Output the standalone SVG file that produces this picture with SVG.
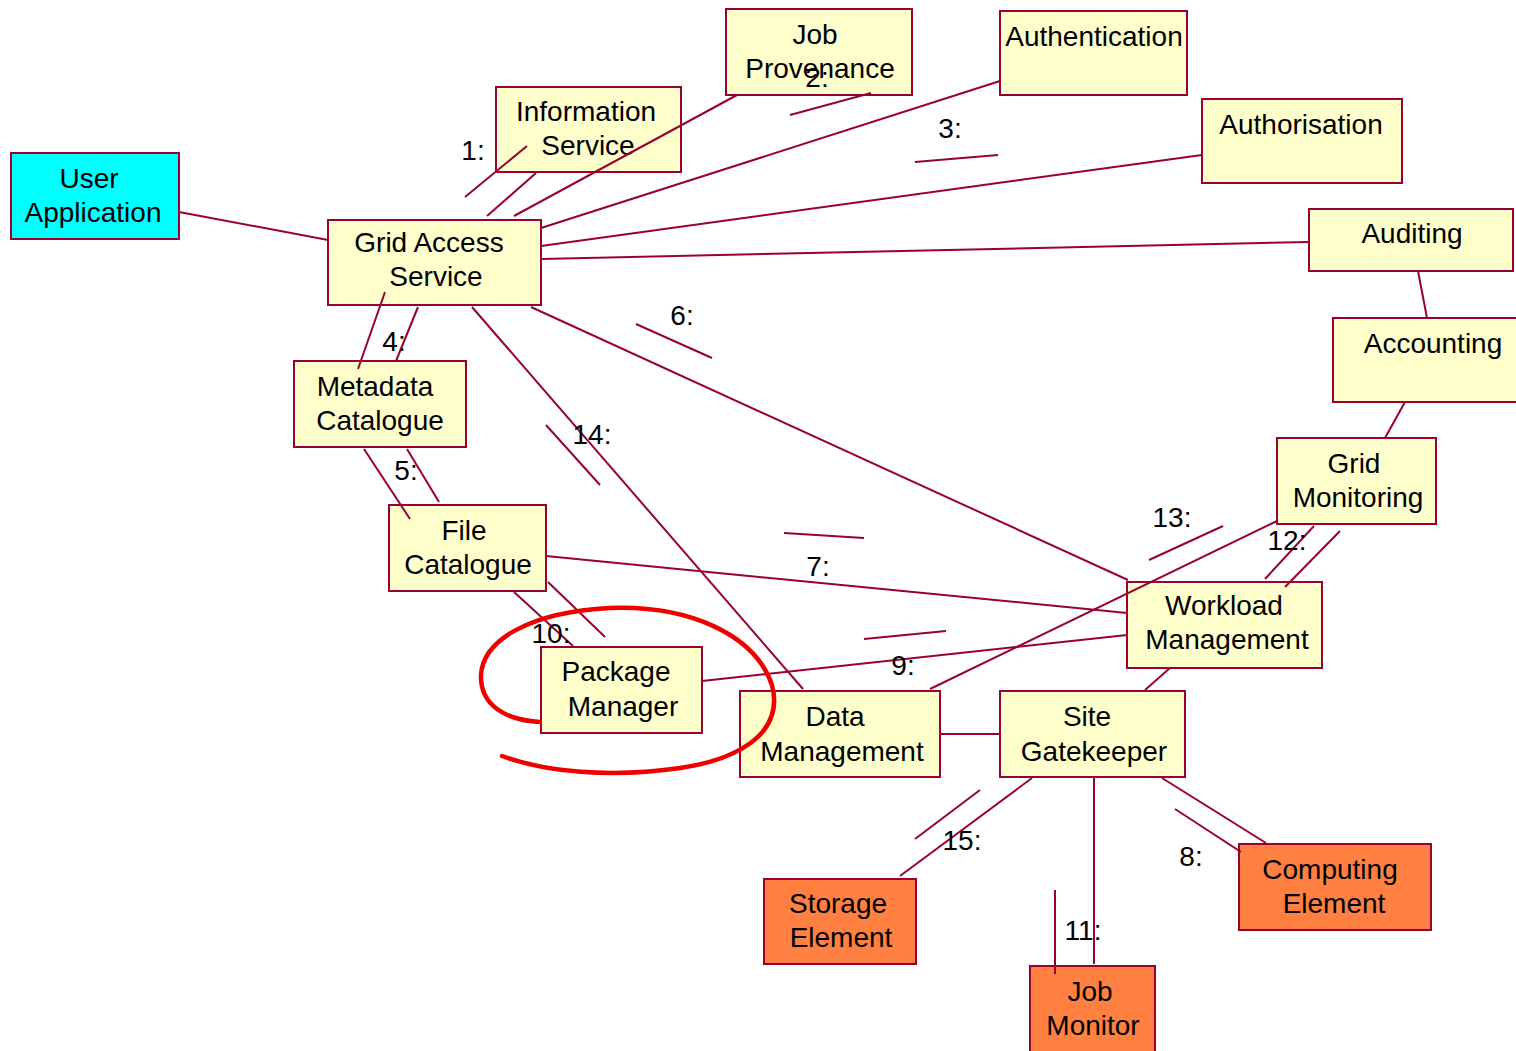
<svg xmlns="http://www.w3.org/2000/svg" width="1516" height="1051" viewBox="0 0 1516 1051">
<style>
.n{fill:#FFFFCC;stroke:#990033;stroke-width:2}
.u{fill:#00FFFF;stroke:#990033;stroke-width:2}
.o{fill:#FF8040;stroke:#990033;stroke-width:2}
text{font-family:"Liberation Sans",Arial,sans-serif;font-size:28px;fill:#000;text-anchor:middle}
.c line{stroke:#990033;stroke-width:2}
</style>
<rect width="1516" height="1051" fill="#fff"/>
<g id="user-application"><rect class="u" x="11" y="153" width="168" height="86"/><text x="89" y="188">User</text><text x="93" y="222">Application</text></g>
<g id="grid-access-service"><rect class="n" x="328" y="220" width="213" height="85"/><text x="429" y="252">Grid Access</text><text x="436" y="286">Service</text></g>
<g id="information-service"><rect class="n" x="496" y="87" width="185" height="85"/><text x="586" y="121">Information</text><text x="588" y="155">Service</text></g>
<g id="job-provenance"><rect class="n" x="726" y="9" width="186" height="86"/><text x="815" y="44">Job</text><text x="820" y="78">Provenance</text></g>
<g id="authentication"><rect class="n" x="1000" y="11" width="187" height="84"/><text x="1094" y="46">Authentication</text></g>
<g id="authorisation"><rect class="n" x="1202" y="99" width="200" height="84"/><text x="1301" y="134">Authorisation</text></g>
<g id="auditing"><rect class="n" x="1309" y="209" width="204" height="62"/><text x="1412" y="243">Auditing</text></g>
<g id="accounting"><rect class="n" x="1333" y="318" width="190" height="84"/><text x="1433" y="353">Accounting</text></g>
<g id="metadata-catalogue"><rect class="n" x="294" y="361" width="172" height="86"/><text x="375" y="396">Metadata</text><text x="380" y="430">Catalogue</text></g>
<g id="file-catalogue"><rect class="n" x="389" y="505" width="157" height="86"/><text x="464" y="540">File</text><text x="468" y="574">Catalogue</text></g>
<g id="package-manager"><rect class="n" x="541" y="647" width="161" height="86"/><text x="616" y="681">Package</text><text x="623" y="716">Manager</text></g>
<g id="data-management"><rect class="n" x="740" y="691" width="200" height="86"/><text x="835" y="726">Data</text><text x="842" y="761">Management</text></g>
<g id="site-gatekeeper"><rect class="n" x="1000" y="691" width="185" height="86"/><text x="1087" y="726">Site</text><text x="1094" y="761">Gatekeeper</text></g>
<g id="workload-management"><rect class="n" x="1127" y="582" width="195" height="86"/><text x="1224" y="615">Workload</text><text x="1227" y="649">Management</text></g>
<g id="grid-monitoring"><rect class="n" x="1277" y="438" width="159" height="86"/><text x="1354" y="473">Grid</text><text x="1358" y="507">Monitoring</text></g>
<g id="storage-element"><rect class="o" x="764" y="879" width="152" height="85"/><text x="838" y="913">Storage</text><text x="841" y="947">Element</text></g>
<g id="computing-element"><rect class="o" x="1239" y="844" width="192" height="86"/><text x="1330" y="879">Computing</text><text x="1334" y="913">Element</text></g>
<g id="job-monitor"><rect class="o" x="1030" y="966" width="125" height="90"/><text x="1090" y="1001">Job</text><text x="1093" y="1035">Monitor</text></g>
<g class="c" id="connectors">
<line x1="179" y1="212" x2="328" y2="240"/>
<line x1="487" y1="216" x2="536" y2="173"/>
<line x1="465" y1="197" x2="527" y2="146"/>
<line x1="514" y1="216" x2="737" y2="95"/>
<line x1="790" y1="115" x2="871" y2="93"/>
<line x1="541" y1="228" x2="1000" y2="81"/>
<line x1="915" y1="162" x2="998" y2="155"/>
<line x1="541" y1="246" x2="1202" y2="155"/>
<line x1="541" y1="259" x2="1309" y2="242"/>
<line x1="1418" y1="271" x2="1427" y2="318"/>
<line x1="1405" y1="402" x2="1385" y2="438"/>
<line x1="385" y1="292" x2="358" y2="369"/>
<line x1="418" y1="307" x2="396" y2="361"/>
<line x1="364" y1="449" x2="410" y2="519"/>
<line x1="407" y1="449" x2="439" y2="502"/>
<line x1="472" y1="307" x2="803" y2="689"/>
<line x1="546" y1="425" x2="600" y2="485"/>
<line x1="531" y1="307" x2="1128" y2="580"/>
<line x1="636" y1="324" x2="712" y2="358"/>
<line x1="546" y1="556" x2="1127" y2="613"/>
<line x1="784" y1="533" x2="864" y2="538"/>
<line x1="514" y1="592" x2="573" y2="646"/>
<line x1="548" y1="582" x2="605" y2="637"/>
<line x1="702" y1="681" x2="1127" y2="635"/>
<line x1="864" y1="639" x2="946" y2="631"/>
<line x1="930" y1="689" x2="1277" y2="521"/>
<line x1="1149" y1="560" x2="1223" y2="526"/>
<line x1="1265" y1="579" x2="1314" y2="526"/>
<line x1="1285" y1="587" x2="1340" y2="531"/>
<line x1="940" y1="734" x2="1000" y2="734"/>
<line x1="1170" y1="668" x2="1145" y2="690"/>
<line x1="1032" y1="778" x2="900" y2="876"/>
<line x1="980" y1="790" x2="915" y2="839"/>
<line x1="1094" y1="778" x2="1094" y2="964"/>
<line x1="1055" y1="890" x2="1055" y2="974"/>
<line x1="1162" y1="778" x2="1266" y2="843"/>
<line x1="1175" y1="809" x2="1241" y2="852"/>
</g>
<g id="labels">
<text x="473" y="160">1:</text>
<text x="817" y="87">2:</text>
<text x="950" y="138">3:</text>
<text x="394" y="351">4:</text>
<text x="406" y="480">5:</text>
<text x="682" y="325">6:</text>
<text x="818" y="576">7:</text>
<text x="1191" y="866">8:</text>
<text x="903" y="675">9:</text>
<text x="551" y="643">10:</text>
<text x="1083" y="940">11:</text>
<text x="1287" y="550">12:</text>
<text x="1172" y="527">13:</text>
<text x="592" y="444">14:</text>
<text x="962" y="850">15:</text>
</g>
<path d="M540,722 C505,720 480,705 481,675 C483,640 530,612 610,608 C690,605 755,635 772,685 C785,735 735,760 680,768 C610,778 545,772 502,756" fill="none" stroke="#EE0000" stroke-width="4.5" stroke-linecap="round"/>
</svg>
